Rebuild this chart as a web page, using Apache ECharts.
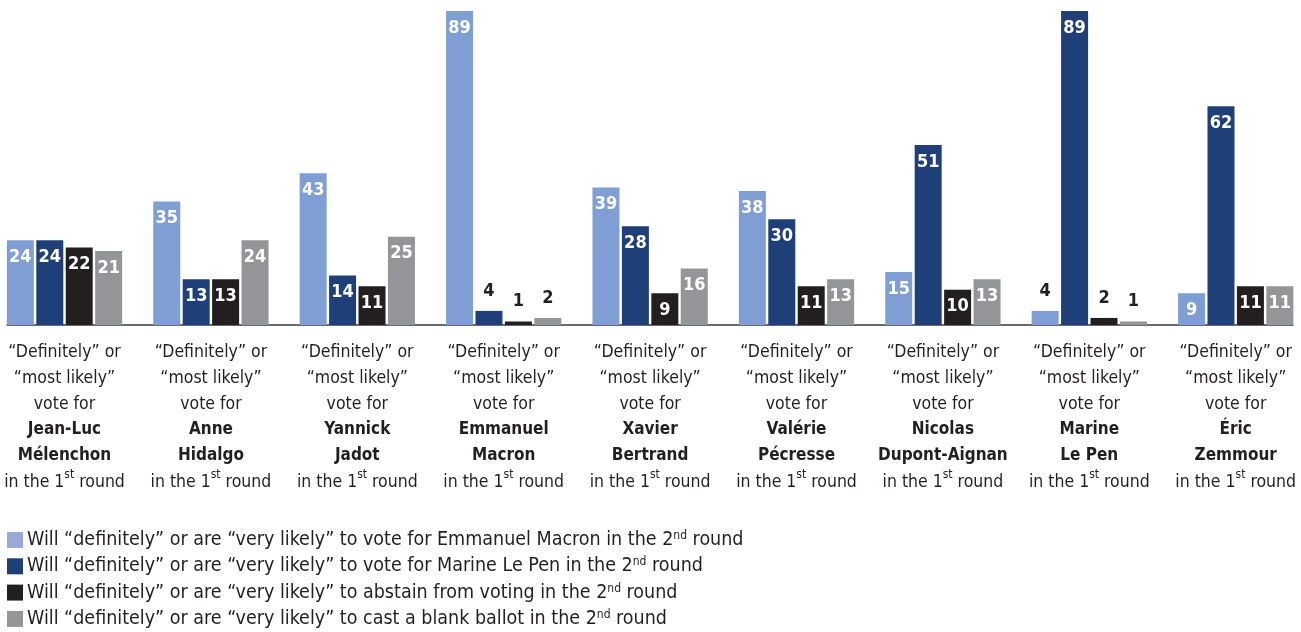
<!DOCTYPE html>
<html>
<head>
<meta charset="utf-8">
<title>Second-round voting intentions by first-round vote</title>
<script src="https://cdn.jsdelivr.net/npm/echarts@6/dist/echarts.min.js"></script>
<style>
  html, body { margin: 0; padding: 0; background: #ffffff; }
  #chart { width: 1301px; height: 632px; }
</style>
</head>
<body>
<div id="chart"></div>
<script>
// First-round candidates (split into two lines for the bold name in the axis labels)
const candidates = ['Jean-Luc Mélenchon', 'Anne Hidalgo', 'Yannick Jadot', 'Emmanuel Macron',
  'Xavier Bertrand', 'Valérie Pécresse', 'Nicolas Dupont-Aignan', 'Marine Le Pen', 'Éric Zemmour'];
const namesFirst = ['Jean-Luc', 'Anne', 'Yannick', 'Emmanuel', 'Xavier', 'Valérie', 'Nicolas', 'Marine', 'Éric'];
const namesLast = ['Mélenchon', 'Hidalgo', 'Jadot', 'Macron', 'Bertrand', 'Pécresse', 'Dupont-Aignan', 'Le Pen', 'Zemmour'];

// Second-round intentions, % of each first-round electorate
const voteMacron = [24, 35, 43, 89, 39, 38, 15, 4, 9];
const voteLePen = [24, 13, 14, 4, 28, 30, 51, 89, 62];
const abstain = [22, 13, 11, 1, 9, 11, 10, 2, 11];
const blankBallot = [21, 24, 25, 2, 16, 13, 13, 1, 11];

const seriesNames = [
  'Will “definitely” or are “very likely” to vote for Emmanuel Macron in the 2{sup|nd} round',
  'Will “definitely” or are “very likely” to vote for Marine Le Pen in the 2{sup|nd} round',
  'Will “definitely” or are “very likely” to abstain from voting in the 2{sup|nd} round',
  'Will “definitely” or are “very likely” to cast a blank ballot in the 2{sup|nd} round'
];
const colors = ['#7f9fd4', '#1f3f78', '#231f20', '#939598'];
const legendColors = ['#9aa7d9', '#1f3f78', '#231f20', '#939598'];

const FONT = '"Liberation Sans Narrow", "DejaVu Sans Condensed", sans-serif';
const INK = '#231f20';

// Short bars get their value printed above in dark ink; the rest inside in white
function buildData(values) {
  return values.map(v => {
    if (v <= 4) {
      return { value: v, label: { position: 'top', distance: 11, color: INK } };
    }
    return v;
  });
}

const chart = echarts.init(document.getElementById('chart'), null, { renderer: 'canvas' });

const series = [voteMacron, voteLePen, abstain, blankBallot].map((vals, i) => ({
  name: seriesNames[i],
  type: 'bar',
  xAxisIndex: 0,
  yAxisIndex: 0,
  data: buildData(vals),
  barWidth: 27,
  barGap: '9%',
  itemStyle: { color: colors[i] },
  label: {
    show: true,
    position: 'insideTop',
    distance: 8,
    color: '#ffffff',
    fontFamily: FONT,
    fontWeight: 'bold',
    fontSize: 18
  },
  z: 3
}));

chart.setOption({
  animation: false,
  backgroundColor: '#ffffff',
  textStyle: { fontFamily: FONT },
  grid: [
    { left: -8.7, right: -7.9, top: 11, bottom: 307, containLabel: false, outerBoundsMode: 'none' },
    { left: 7, right: 8, top: 11, bottom: 307, containLabel: false, outerBoundsMode: 'none' }
  ],
  xAxis: [
    {
      type: 'category',
      gridIndex: 0,
      data: candidates,
      axisLine: { show: false },
      axisTick: { show: false },
      axisLabel: {
        interval: 0,
        margin: 14,
        hideOverlap: false,
        color: INK,
        fontFamily: FONT,
        fontSize: 17.5,
        lineHeight: 26,
        formatter: (val, idx) => [
          '“Definitely” or',
          '“most likely”',
          'vote for',
          '{b|' + namesFirst[idx] + '}',
          '{b|' + namesLast[idx] + '}',
          'in the 1{sup|st} round'
        ].join('\n'),
        rich: {
          b: { fontFamily: FONT, fontWeight: 'bold', fontSize: 17, lineHeight: 26, color: INK },
          sup: { fontFamily: FONT, fontSize: 12, lineHeight: 26, verticalAlign: 'top', padding: [0, 0, 8, 0], color: INK }
        }
      }
    },
    {
      type: 'value',
      gridIndex: 1,
      min: 0,
      max: 1,
      axisLine: { show: true, lineStyle: { color: '#3a3a3a', width: 1.5 } },
      axisTick: { show: false },
      axisLabel: { show: false },
      splitLine: { show: false },
      z: 1
    }
  ],
  yAxis: [
    { type: 'value', gridIndex: 0, min: 0, max: 89, show: false, splitLine: { show: false } },
    { type: 'value', gridIndex: 1, min: 0, max: 1, show: false, splitLine: { show: false } }
  ],
  legend: {
    orient: 'vertical',
    left: 2,
    top: 525,
    height: 107,
    itemWidth: 16,
    itemHeight: 16,
    itemGap: 6.3,
    icon: 'rect',
    selectedMode: false,
    textStyle: {
      color: INK,
      fontFamily: FONT,
      fontSize: 19.5,
      lineHeight: 20,
      padding: [0, 0, 0, -1],
      rich: {
        sup: { fontFamily: FONT, fontSize: 12, lineHeight: 20, verticalAlign: 'top', padding: [0, 0, 7, 0], color: INK }
      }
    },
    data: seriesNames.map((name, i) => ({ name: name, itemStyle: { color: legendColors[i] } }))
  },
  series: series
});
</script>
</body>
</html>
